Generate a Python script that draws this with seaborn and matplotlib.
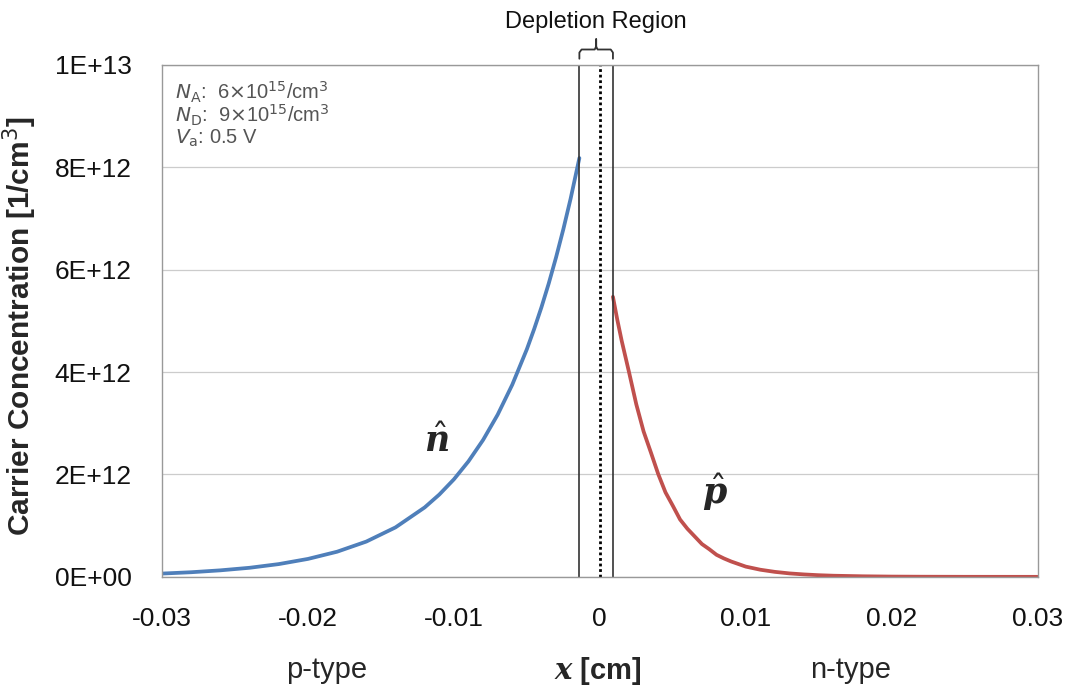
import numpy as np
import pandas as pd
import matplotlib
matplotlib.use("Agg")
import matplotlib.pyplot as plt
import matplotlib.transforms as mtransforms
from matplotlib.ticker import FuncFormatter
import seaborn as sns

# --- data (x in cm, concentration in 1e12 / cm^3) ---
x_n = [-0.030, -0.028, -0.026, -0.024, -0.022, -0.020, -0.018, -0.016, -0.014,
       -0.012, -0.011, -0.010, -0.009, -0.008, -0.007, -0.006, -0.005, -0.0045,
       -0.004, -0.0035, -0.003, -0.0025, -0.002, -0.0014]
n_hat = [0.064, 0.090, 0.127, 0.177, 0.249, 0.350, 0.491, 0.689, 0.966,
         1.356, 1.607, 1.904, 2.256, 2.673, 3.167, 3.752, 4.445, 4.839,
         5.265, 5.730, 6.238, 6.789, 7.387, 8.180]

x_p = [0.0009, 0.0012, 0.0015, 0.0020, 0.0025, 0.0030, 0.0035, 0.0040, 0.0045, 0.0050,
       0.0055, 0.0060, 0.0065, 0.0070, 0.0075, 0.0080, 0.0085, 0.0090, 0.0095, 0.0100,
       0.011, 0.012, 0.013, 0.014, 0.015, 0.016, 0.018, 0.020, 0.022, 0.025, 0.030]
p_hat = [5.47, 5.02, 4.61, 4.00, 3.37, 2.84, 2.43, 2.01, 1.65, 1.39,
         1.12, 0.94, 0.79, 0.64, 0.54, 0.43, 0.36, 0.30, 0.25, 0.20,
         0.139, 0.097, 0.067, 0.047, 0.032, 0.022, 0.011, 0.005, 0.0025, 0.0008, 0.0001]

x_dep_left = -0.0014
x_dep_right = 0.0009

x_ticks = [-0.03, -0.02, -0.01, 0, 0.01, 0.02, 0.03]
x_tick_labels = ["-0.03", "-0.02", "-0.01", "0", "0.01", "0.02", "0.03"]
y_ticks = [0, 2e12, 4e12, 6e12, 8e12, 1e13]

df_n = pd.DataFrame({"x": x_n, "c": np.array(n_hat) * 1e12})
df_p = pd.DataFrame({"x": x_p, "c": np.array(p_hat) * 1e12})

# --- style ---
sns.set_theme(style="white")
plt.rcParams['font.family'] = ['Liberation Sans', 'DejaVu Sans']

fig = plt.figure(figsize=(10.73, 6.90), dpi=100)
ax = fig.add_axes([0.151, 0.164, 0.816, 0.742])

sns.lineplot(data=df_n, x="x", y="c", color="#4F7FBA", linewidth=2.7, ax=ax)
sns.lineplot(data=df_p, x="x", y="c", color="#C0504D", linewidth=2.7, ax=ax)

# depletion region boundaries
ax.axvline(x_dep_left, color="#333333", linewidth=1.2)
ax.axvline(x_dep_right, color="#333333", linewidth=1.2)
ax.axvline(0, color="black", linewidth=2, linestyle=(0, (1, 1)))

ax.set_xlim(-0.03, 0.03)
ax.set_ylim(0, 1e13)
ax.set_xticks(x_ticks)
ax.set_xticklabels(x_tick_labels)
ax.set_yticks(y_ticks)
ax.yaxis.set_major_formatter(FuncFormatter(lambda v, pos: "{:.0E}".format(v)))
ax.tick_params(axis='both', labelsize=19, colors="#111111")
ax.tick_params(axis='x', direction='in', length=5, width=0.8, color="#999999", pad=22)
ax.tick_params(axis='y', length=0, pad=22)

ax.yaxis.grid(True, color="#cccccc", linewidth=0.9)
ax.xaxis.grid(False)
for s in ax.spines.values():
    s.set_color("#999999")
    s.set_linewidth(1.0)

ax.set_ylabel("Carrier Concentration [1/cm$^3$]", fontsize=21.5, fontweight='bold')
ax.yaxis.set_label_coords(-0.140, 0.49)
ax.set_xlabel(r"$\mathbfit{x}$ [cm]", fontsize=21, fontweight='bold',
              math_fontfamily='dejavuserif')
ax.xaxis.set_label_coords(0.498, -0.152)

# p-type / n-type labels below the axis
ax.text(0.188, -0.182, "p-type", transform=ax.transAxes, fontsize=21, ha='center', va='center')
ax.text(0.786, -0.182, "n-type", transform=ax.transAxes, fontsize=21, ha='center', va='center')

# parameter box
info = [r"$N_\mathrm{A}$:  6$\times$10$^{15}$/cm$^3$",
        r"$N_\mathrm{D}$:  9$\times$10$^{15}$/cm$^3$",
        r"$V_\mathrm{a}$: 0.5 V"]
for i, t in enumerate(info):
    ax.text(0.015, 0.947 - i * 0.045, t, transform=ax.transAxes, fontsize=14.5,
            color="#555555", ha='left', va='center', math_fontfamily='dejavusans')

# curve labels
ax.text(-0.0112, 2.65e12, r"$\hat{\mathbfit{n}}$", fontsize=25, ha='center', va='center',
        math_fontfamily='dejavuserif')
ax.text(0.0079, 1.65e12, r"$\hat{\mathbfit{p}}$", fontsize=25, ha='center', va='center',
        math_fontfamily='dejavuserif')

# depletion region brace and label
trans = mtransforms.blended_transform_factory(ax.transData, ax.transAxes)
xl, xr = x_dep_left, x_dep_right
xm = 0.5 * (xl + xr)
bx = [xl, xl, xl + 0.00015, xm - 0.00010, xm, xm, xm, xm + 0.00010, xr - 0.00015, xr, xr]
by = [1.012, 1.024, 1.030, 1.030, 1.036, 1.050, 1.036, 1.030, 1.030, 1.024, 1.012]
ax.plot(bx, by, color="#333333", linewidth=1.3, transform=trans, clip_on=False)
ax.text(xm, 1.084, "Depletion Region", transform=trans, fontsize=17, ha='center',
        va='center', color="#111111")

plt.savefig("out.png", dpi=100)
